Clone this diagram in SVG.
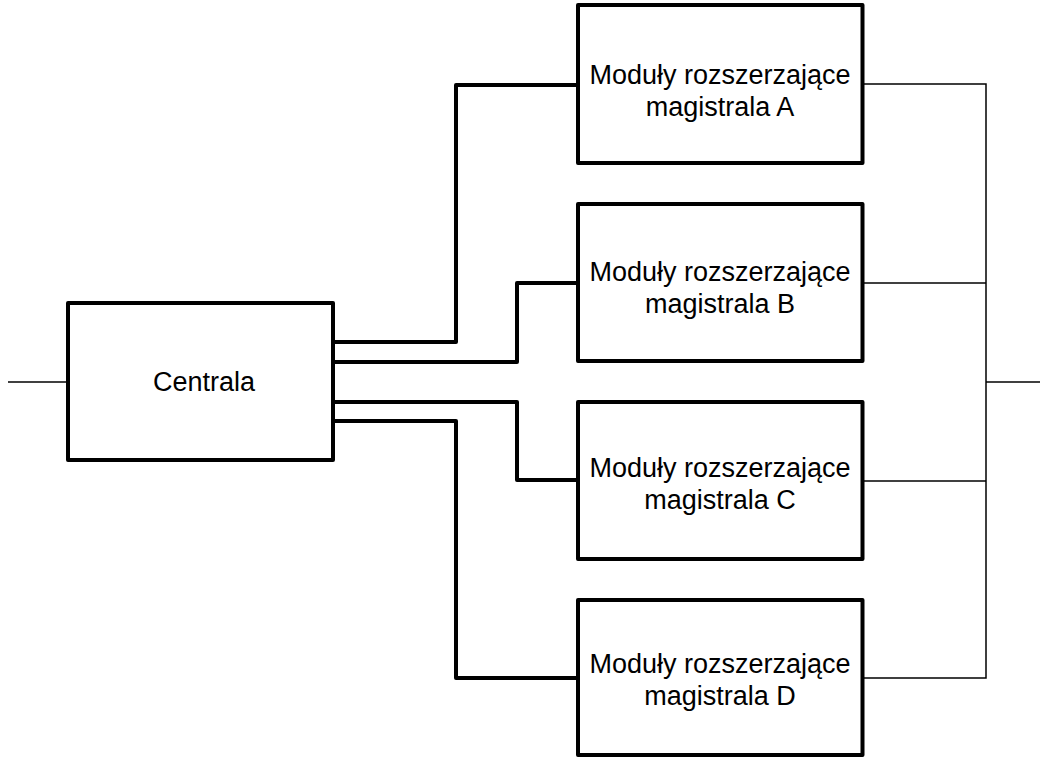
<svg xmlns="http://www.w3.org/2000/svg" width="1040" height="757" viewBox="0 0 1040 757">
<style>
.box{fill:#fff;stroke:#000;stroke-width:4;stroke-linejoin:round}
.thick{fill:none;stroke:#000;stroke-width:4;stroke-linejoin:round}
.thin{fill:none;stroke:#000;stroke-width:1.5}
.lbl{font-family:"Liberation Sans",Arial,sans-serif;font-size:27px;fill:#000;text-anchor:middle}
</style>
<rect width="1040" height="757" fill="#fff"/>
<g id="connectors">
<path class="thin" d="M8 382H68"/>
<path class="thick" d="M333 342H456V85H578"/>
<path class="thick" d="M333 362H517V283H578"/>
<path class="thick" d="M333 402H517V480H578"/>
<path class="thick" d="M333 421H456V678H578"/>
<path class="thin" d="M862 84H986V678H862"/>
<path class="thin" d="M862 283H986"/>
<path class="thin" d="M862 481H986"/>
<path class="thin" d="M986 382H1040"/>
</g>
<g id="centrala">
<rect class="box" x="68" y="303" width="265" height="157"/>
<text class="lbl" x="204" y="391">Centrala</text>
</g>
<g id="modul-a">
<rect class="box" x="578" y="5" width="284.5" height="158"/>
<text class="lbl" x="720" y="84">Moduły rozszerzające</text>
<text class="lbl" x="720" y="116">magistrala A</text>
</g>
<g id="modul-b">
<rect class="box" x="578" y="204" width="284.5" height="157"/>
<text class="lbl" x="720" y="281">Moduły rozszerzające</text>
<text class="lbl" x="720" y="313">magistrala B</text>
</g>
<g id="modul-c">
<rect class="box" x="578" y="402" width="284.5" height="157"/>
<text class="lbl" x="720" y="477">Moduły rozszerzające</text>
<text class="lbl" x="720" y="509">magistrala C</text>
</g>
<g id="modul-d">
<rect class="box" x="578" y="600" width="284.5" height="155"/>
<text class="lbl" x="720" y="673">Moduły rozszerzające</text>
<text class="lbl" x="720" y="705">magistrala D</text>
</g>
</svg>
